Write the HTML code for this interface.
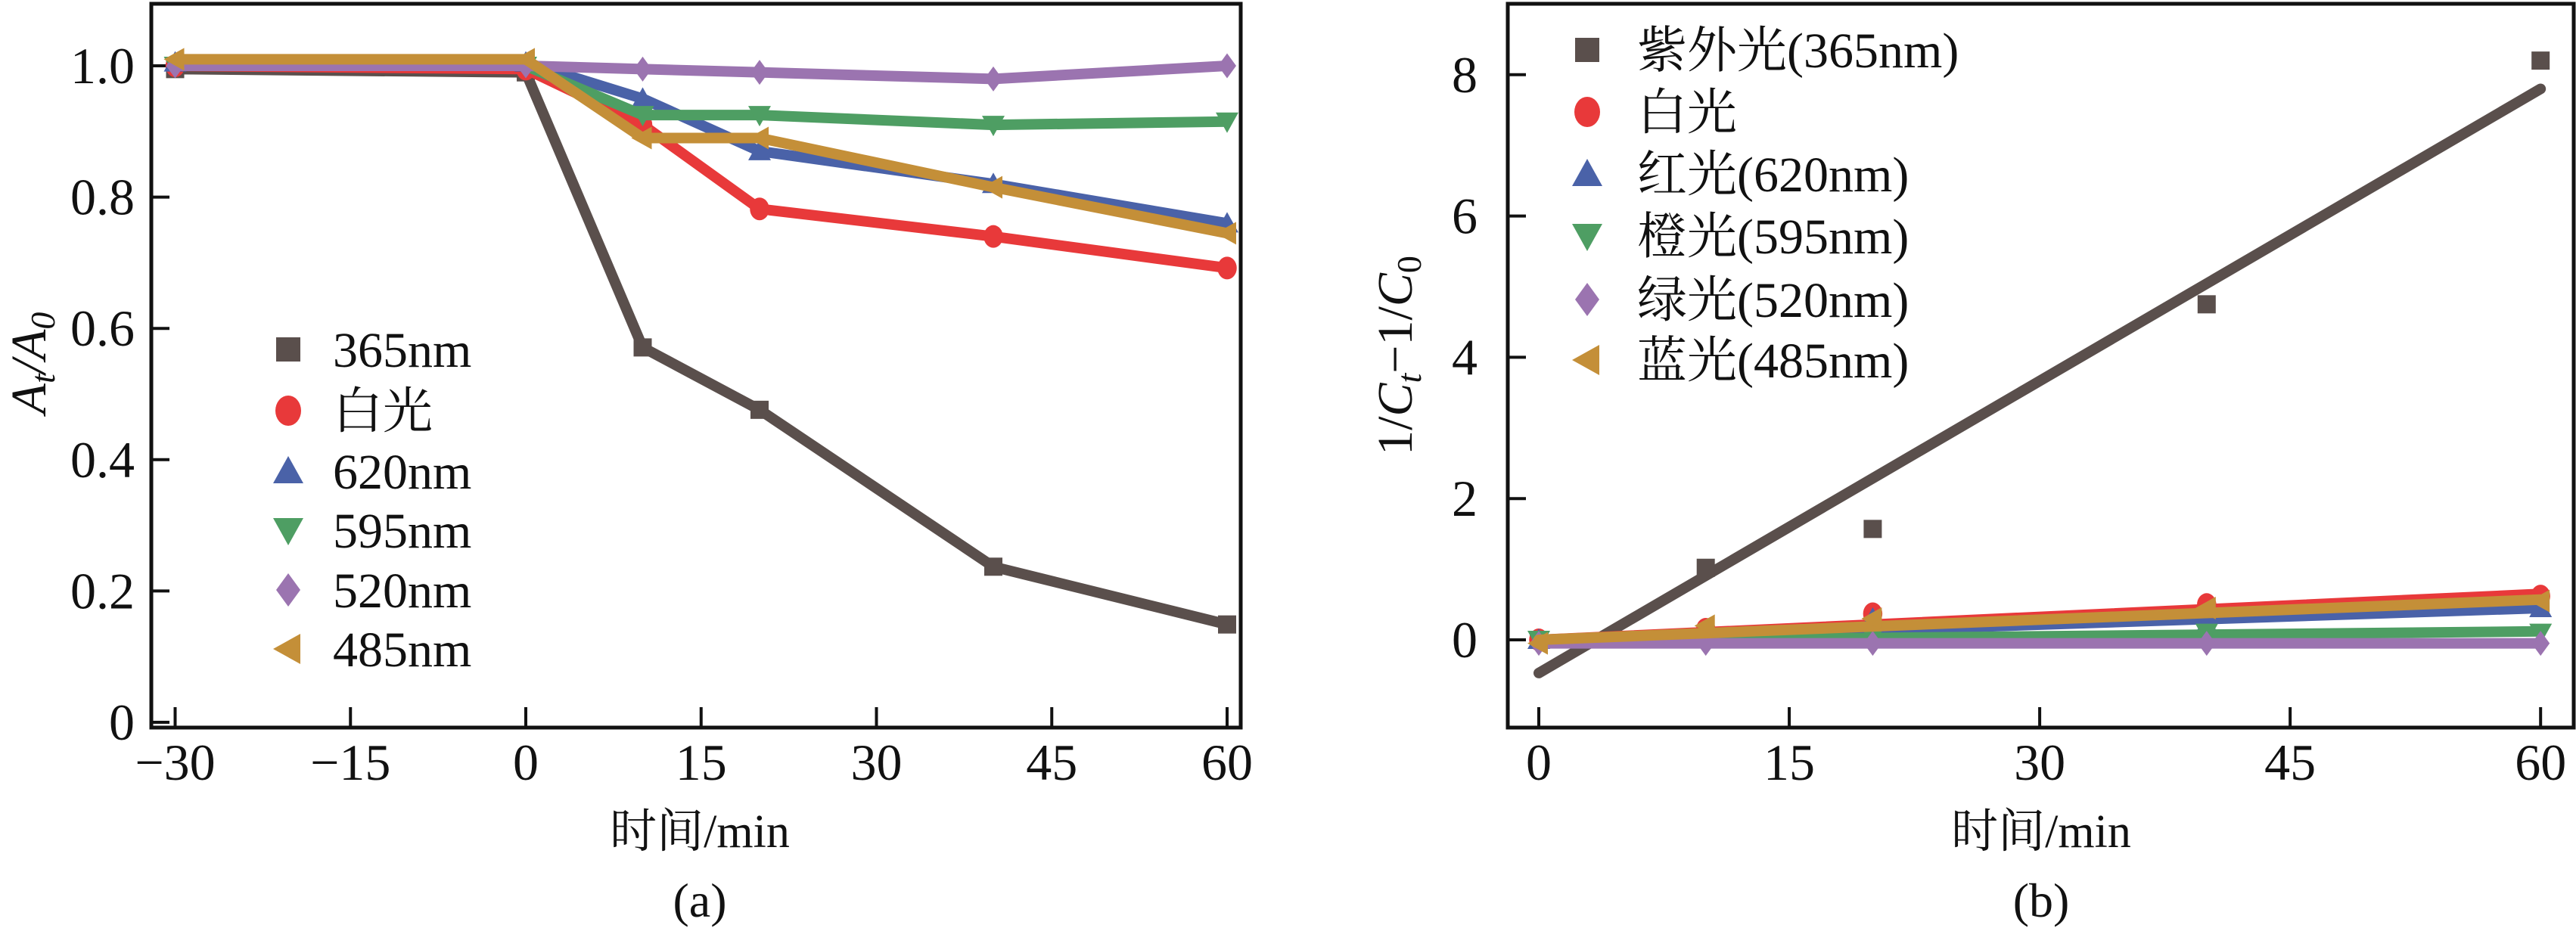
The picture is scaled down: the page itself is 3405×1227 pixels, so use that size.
<!DOCTYPE html>
<html><head><meta charset="utf-8">
<style>
html,body{margin:0;padding:0;background:#fff;}
svg{display:block;}
text{font-family:'Liberation Serif','Times New Roman',serif;fill:#111;}
</style></head>
<body>
<svg id="fig" width="3405" height="1227" viewBox="0 0 3405 1227" xmlns="http://www.w3.org/2000/svg">
<g id="pa"></g>
<g id="pb"></g>
</svg>
<script>
// ---- chart (a) data ----
const timesA = [-30, 0, 10, 20, 40, 60];
const a365 = [0.995, 0.99, 0.571, 0.476, 0.237, 0.149];
const aWhite = [1.0, 0.995, 0.91, 0.782, 0.74, 0.692];
const a620 = [1.005, 1.005, 0.95, 0.87, 0.82, 0.76];
const a595 = [1.0, 1.0, 0.925, 0.925, 0.91, 0.915];
const a520 = [1.0, 1.0, 0.995, 0.99, 0.98, 1.0];
const a485 = [1.01, 1.01, 0.89, 0.89, 0.815, 0.745];
const xTicksA = [-30, -15, 0, 15, 30, 45, 60];
const yTicksA = [0, 0.2, 0.4, 0.6, 0.8, 1.0];
const yTickLabelsA = ["0", "0.2", "0.4", "0.6", "0.8", "1.0"];
const legendA = ["365nm", "白光", "620nm", "595nm", "520nm", "485nm"];
// ---- chart (b) data ----
const timesB = [0, 10, 20, 40, 60];
const b365 = [0.0, 1.02, 1.57, 4.75, 8.2];
const bWhite = [0.0, 0.15, 0.37, 0.5, 0.62];
const b620 = [0.0, 0.1, 0.3, 0.22, 0.45];
const b595 = [0.0, 0.03, 0.05, 0.1, 0.1];
const b520 = [-0.05, -0.05, -0.05, -0.05, -0.05];
const b485 = [-0.05, 0.2, 0.3, 0.45, 0.55];
const fitStartB = [-0.47, 0.0, -0.02, -0.02, -0.05, 0.0];
const fitEndB = [7.8, 0.65, 0.45, 0.12, -0.05, 0.57];
const xTicksB = [0, 15, 30, 45, 60];
const yTicksB = [0, 2, 4, 6, 8];
const legendB = ["紫外光(365nm)", "白光", "红光(620nm)", "橙光(595nm)", "绿光(520nm)", "蓝光(485nm)"];

const colors = ["#5a4f4c", "#e8393a", "#4a62a8", "#4e9e63", "#9b74b0", "#c48f38"];
const shapes = ["square", "circle", "up", "down", "diamond", "left"];
const NS = "http://www.w3.org/2000/svg";

function mk(parent, tag, attrs, txt) {
  const e = document.createElementNS(NS, tag);
  for (const k in attrs) e.setAttribute(k, attrs[k]);
  if (tag === "text") {
    const cjk = txt !== undefined && /[\u4e00-\u9fff]/.test(txt);
    e.setAttribute("style", cjk ? "font-family:'Liberation Serif','Noto Serif CJK SC',serif" : "font-family:'Liberation Serif',serif");
  }
  if (txt !== undefined) e.textContent = txt;
  parent.appendChild(e);
  return e;
}
function marker(g, shape, cx, cy, r, color) {
  let e;
  if (shape === "square") e = mk(g, "rect", {x: cx - r * 0.8, y: cy - r * 0.8, width: r * 1.6, height: r * 1.6, fill: color});
  else if (shape === "circle") e = mk(g, "ellipse", {cx: cx, cy: cy, rx: r * 0.85, ry: r, fill: color});
  else {
    let p;
    if (shape === "up") p = [[cx, cy - r], [cx + r, cy + r * 0.8], [cx - r, cy + r * 0.8]];
    else if (shape === "down") p = [[cx, cy + r], [cx + r, cy - r * 0.8], [cx - r, cy - r * 0.8]];
    else if (shape === "diamond") p = [[cx, cy - r * 1.1], [cx + r * 0.8, cy], [cx, cy + r * 1.1], [cx - r * 0.8, cy]];
    else p = [[cx - r, cy], [cx + r * 0.8, cy - r], [cx + r * 0.8, cy + r]];
    e = mk(g, "polygon", {points: p.map(q => q.join(",")).join(" "), fill: color});
  }
  return e;
}

// ---------- chart A ----------
(function () {
  const g = document.getElementById("pa");
  const L = 200, R = 1640, T = 5, B = 962;
  const xs = v => 695 + v * 15.45;
  const ys = v => 955 - v * 868;
  const series = [a365, aWhite, a620, a595, a520, a485];
  const fr = mk(g, "rect", {x: L, y: T, width: R - L, height: B - T, fill: "none", stroke: "#111", "stroke-width": 5});
  
  
  xTicksA.forEach(t => {
    const x = xs(t);
    const tl = mk(g, "line", {x1: x, y1: B, x2: x, y2: B - 27, stroke: "#111", "stroke-width": 4});
    
    
    const lb = mk(g, "text", {x: x, y: 1031, "text-anchor": "middle", "font-size": 68}, String(t).replace("-", "\u2212"));
    
    
  });
  yTicksA.forEach((t, i) => {
    const y = ys(t);
    const tl = mk(g, "line", {x1: L, y1: y, x2: L + 24, y2: y, stroke: "#111", "stroke-width": 4});
    
    
    const lb = mk(g, "text", {x: 178, y: y + 23, "text-anchor": "end", "font-size": 68}, yTickLabelsA[i]);
    
    
  });
  series.forEach((s, si) => {
    const sg = mk(g, "g", {});
    
    
    const pts = s.map((v, i) => xs(timesA[i]) + "," + ys(v)).join(" ");
    const pl = mk(sg, "polyline", {points: pts, fill: "none", stroke: colors[si], "stroke-width": 14, "stroke-linejoin": "round"});
    
    
    s.forEach((v, i) => {
      const m = marker(sg, shapes[si], xs(timesA[i]), ys(v), 15, colors[si]);
      
      
    });
  });
  const legRows = [462, 543, 623, 701, 780, 858];
  legendA.forEach((n, i) => {
    const lg = mk(g, "g", {});
    
    
    marker(lg, shapes[i], 381, legRows[i], 20, colors[i]);
    mk(lg, "text", {x: 440, y: legRows[i] + 23, "font-size": 66}, n);
  });
  const yt = mk(g, "text", {x: 0, y: 0, "font-size": 66, "font-style": "italic", transform: "translate(60,480) rotate(-90)", "text-anchor": "middle"});
  
  
  yt.innerHTML = 'A<tspan font-size="46" dy="12">t</tspan><tspan dy="-12">/A</tspan><tspan font-size="46" dy="12">0</tspan>';
  const xt = mk(g, "text", {x: 925, y: 1120, "text-anchor": "middle", "font-size": 62}, "时间/min");
  
  
  const cap = mk(g, "text", {x: 925, y: 1212, "text-anchor": "middle", "font-size": 64}, "(a)");
  
  
})();

// ---------- chart B ----------
(function () {
  const g = document.getElementById("pb");
  const L = 1993, R = 3402, T = 5, B = 962;
  const xs = v => 2034 + v * 22.07;
  const ys = v => 846 - v * 93.4;
  const series = [b365, bWhite, b620, b595, b520, b485];
  const fr = mk(g, "rect", {x: L, y: T, width: R - L, height: B - T, fill: "none", stroke: "#111", "stroke-width": 5});
  
  
  xTicksB.forEach(t => {
    const x = xs(t);
    const tl = mk(g, "line", {x1: x, y1: B, x2: x, y2: B - 27, stroke: "#111", "stroke-width": 4});
    
    
    const lb = mk(g, "text", {x: x, y: 1031, "text-anchor": "middle", "font-size": 68}, String(t));
    
    
  });
  yTicksB.forEach(t => {
    const y = ys(t);
    const tl = mk(g, "line", {x1: L, y1: y, x2: L + 24, y2: y, stroke: "#111", "stroke-width": 4});
    
    
    const lb = mk(g, "text", {x: 1953, y: y + 23, "text-anchor": "end", "font-size": 68}, String(t));
    
    
  });
  series.forEach((s, si) => {
    const sg = mk(g, "g", {});
    
    
    const fl = mk(sg, "line", {x1: xs(timesB[0]), y1: ys(fitStartB[si]), x2: xs(timesB[timesB.length - 1]), y2: ys(fitEndB[si]), stroke: colors[si], "stroke-width": 14, "stroke-linecap": "round"});
    
    
    s.forEach((v, i) => {
      const m = marker(sg, shapes[si], xs(timesB[i]), ys(v), 15, colors[si]);
      
      
    });
  });
  const legRows = [66, 148, 230, 312, 396, 476];
  legendB.forEach((n, i) => {
    const lg = mk(g, "g", {});
    
    
    marker(lg, shapes[i], 2098, legRows[i], 20, colors[i]);
    mk(lg, "text", {x: 2164, y: legRows[i] + 23, "font-size": 66}, n);
  });
  const yt = mk(g, "text", {x: 0, y: 0, "font-size": 66, transform: "translate(1866,470) rotate(-90)", "text-anchor": "middle"});
  
  
  yt.innerHTML = '1/<tspan font-style="italic">C</tspan><tspan font-style="italic" font-size="46" dy="12">t</tspan><tspan dy="-12">\u22121/</tspan><tspan font-style="italic">C</tspan><tspan font-size="46" dy="12">0</tspan>';
  const xt = mk(g, "text", {x: 2698, y: 1120, "text-anchor": "middle", "font-size": 62}, "时间/min");
  
  
  const cap = mk(g, "text", {x: 2698, y: 1212, "text-anchor": "middle", "font-size": 64}, "(b)");
  
  
})();
</script>
</body></html>
